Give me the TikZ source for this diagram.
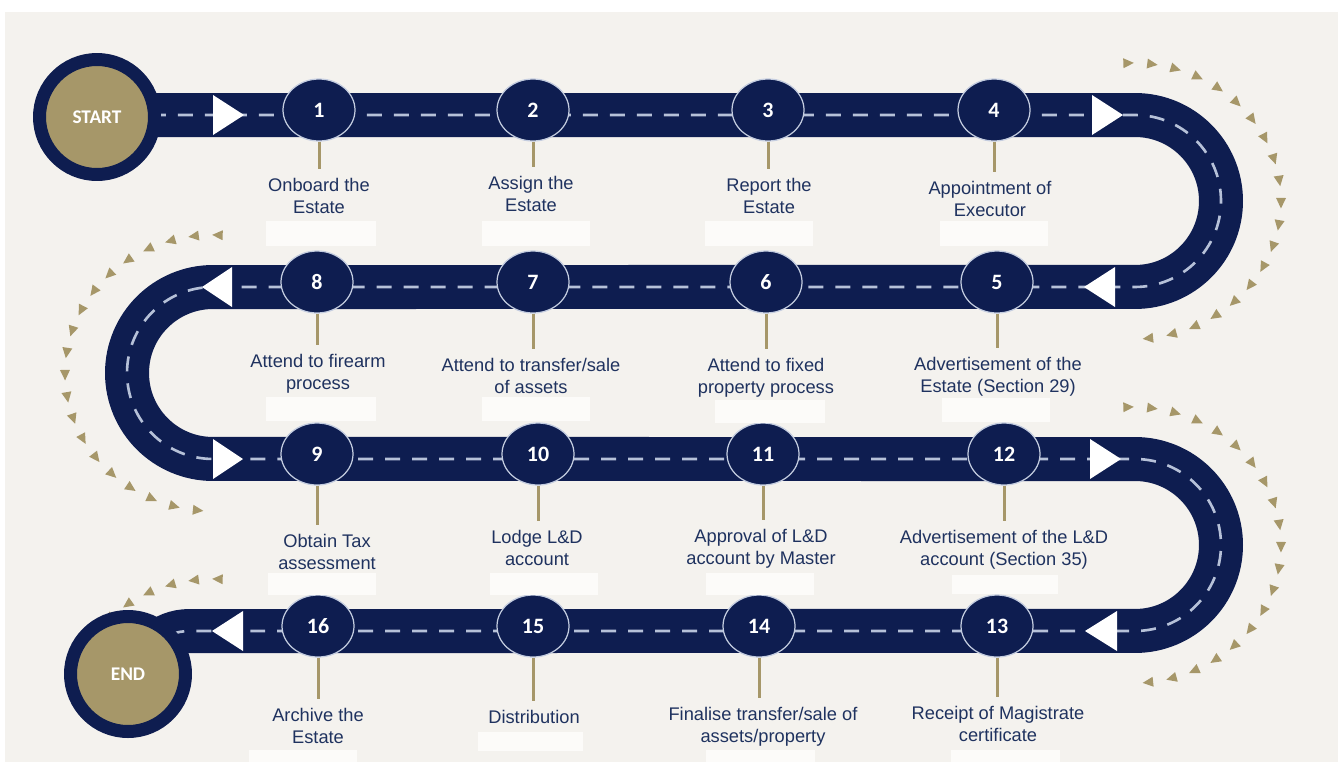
\documentclass[tikz,border=0pt]{standalone}
\usepackage{fontspec}
\setmainfont{Liberation Sans}
\newfontfamily\badgefont{Carlito}
\usepackage{tikz}
\usetikzlibrary{
	shapes.geometric,
	calc}

\definecolor{navy}{RGB}{14,29,80}
\definecolor{gold}{RGB}{166,151,105}
\definecolor{paper}{RGB}{244,242,238}
\definecolor{ink}{RGB}{31,50,95}
\definecolor{laneline}{RGB}{182,193,216}
\definecolor{ringline}{RGB}{196,205,224}
\definecolor{blank}{RGB}{252,251,249}

\begin{document}
\begin{tikzpicture}[x=0.02cm,y=0.02cm,every text node part/.style={align=center},
	road/.style={draw=navy,line width=0.88cm,
		postaction={draw=laneline,line width=1.5pt,dash pattern=on 0.3cm off 0.24cm}},
	endpoint/.style={circle,fill=gold,draw=navy,line width=0.26cm,minimum size=2.3cm,
		inner sep=0pt,text=white,font=\badgefont\bfseries\fontsize{11}{13}\selectfont},
	badge/.style={ellipse,fill=navy,draw=ringline,line width=0.7pt,minimum width=1.44cm,
		minimum height=1.24cm,inner sep=0pt,text=white,font=\badgefont\bfseries\fontsize{12.5}{14}\selectfont},
	stagetext/.style={anchor=north,inner sep=0pt,text=ink,font=\fontsize{10.4}{12.5}\selectfont},
	stem/.style={draw=gold,line width=0.06cm,shorten >=0.18cm},
	chevron/.style={fill=gold}]

		\useasboundingbox (0,0) rectangle (1338,-762);
		\fill[white] (0,0) rectangle (1338,-762);
		\fill[paper] (5,-12) rectangle (1338,-762);

		% Chevrons round the turns
		\foreach \cy in {201,545}
			\foreach \i in {0,...,19}{
				\pgfmathsetmacro{\ang}{92-9.26*\i}
				\fill[chevron,shift={({1133+148*cos(\ang)},{-\cy+138*sin(\ang)})},rotate=\ang-90]
					(6,0) -- (-4.5,5) -- (-4.5,-5) -- cycle;
			}
		\foreach \cy/\last in {373/19,717/5}
			\foreach \i in {0,...,\last}{
				\pgfmathsetmacro{\ang}{88+9.26*\i}
				\fill[chevron,shift={({213+148*cos(\ang)},{-\cy+138*sin(\ang)})},rotate=\ang+90]
					(6,0) -- (-4.5,5) -- (-4.5,-5) -- cycle;
			}

		% Road
		\draw[road] (97,-115) -- (1135,-115) arc (90:-90:1.72cm) -- (213,-287)
			arc (90:270:1.72cm) -- (1135,-459) arc (90:-90:1.72cm) -- (213,-631)
			-- (190,-631) to[out=180,in=50] (128,-674);

		% Direction arrows
		\foreach \bx/\tx/\ry in {213/244/115,1092/1123/115,1115/1084/287,232/202/287,
				213/243/459,1090/1121/459,1117/1085/631,243/212/631}
			\fill[white] (\bx,-\ry+20) -- (\tx,-\ry) -- (\bx,-\ry-20) -- cycle;

		% Start and end
		\node[endpoint] (start) at (97,-117) {START};
		\node[endpoint] (end) at (128,-674) {END};

		% Stages
		\node[badge] (n1) at (319,-110) {1};
		\node[badge] (n2) at (533,-110) {2};
		\node[badge] (n3) at (768,-110) {3};
		\node[badge] (n4) at (994,-110) {4};
		\node[badge] (n5) at (997,-282) {5};
		\node[badge] (n6) at (766,-282) {6};
		\node[badge] (n7) at (533,-282) {7};
		\node[badge] (n8) at (317,-282) {8};
		\node[badge] (n9) at (317,-454) {9};
		\node[badge] (n10) at (538,-454) {10};
		\node[badge] (n11) at (763,-454) {11};
		\node[badge] (n12) at (1004,-454) {12};
		\node[badge] (n13) at (997,-626) {13};
		\node[badge] (n14) at (759,-626) {14};
		\node[badge] (n15) at (533,-626) {15};
		\node[badge] (n16) at (318,-626) {16};

		\node[stagetext] (l1) at (319,-178) {Onboard the\\Estate};
		\node[stagetext] (l2) at (531,-176) {Assign the\\Estate};
		\node[stagetext] (l3) at (769,-178) {Report the\\Estate};
		\node[stagetext] (l4) at (990,-181) {Appointment of\\Executor};
		\node[stagetext] (l5) at (998,-357) {Advertisement of the\\Estate (Section 29)};
		\node[stagetext] (l6) at (766,-358) {Attend to fixed\\property process};
		\node[stagetext] (l7) at (531,-358) {Attend to transfer/sale\\of assets};
		\node[stagetext] (l8) at (318,-354) {Attend to firearm\\process};
		\node[stagetext] (l9) at (327,-534) {Obtain Tax\\assessment};
		\node[stagetext] (l10) at (537,-530) {Lodge L\&D\\account};
		\node[stagetext] (l11) at (761,-529) {Approval of L\&D\\account by Master};
		\node[stagetext] (l12) at (1004,-530) {Advertisement of the L\&D\\account (Section 35)};
		\node[stagetext] (l13) at (998,-706) {Receipt of Magistrate\\certificate};
		\node[stagetext] (l14) at (763,-707) {Finalise transfer/sale of\\assets/property};
		\node[stagetext] (l15) at (534,-710) {Distribution};
		\node[stagetext] (l16) at (318,-708) {Archive the\\Estate};

		\draw[stem] (n1.south) -- (n1.south |- l1.north);
		\draw[stem] (n2.south) -- (n2.south |- l2.north);
		\draw[stem] (n3.south) -- (n3.south |- l3.north);
		\draw[stem] (n4.south) -- (n4.south |- l4.north);
		\draw[stem] (n5.south) -- (n5.south |- l5.north);
		\draw[stem] (n6.south) -- (n6.south |- l6.north);
		\draw[stem] (n7.south) -- (n7.south |- l7.north);
		\draw[stem] (n8.south) -- (n8.south |- l8.north);
		\draw[stem] (n9.south) -- (n9.south |- l9.north);
		\draw[stem] (n10.south) -- (n10.south |- l10.north);
		\draw[stem] (n11.south) -- (n11.south |- l11.north);
		\draw[stem] (n12.south) -- (n12.south |- l12.north);
		\draw[stem] (n13.south) -- (n13.south |- l13.north);
		\draw[stem] (n14.south) -- (n14.south |- l14.north);
		\draw[stem] (n15.south) -- (n15.south |- l15.north);
		\draw[stem] (n16.south) -- (n16.south |- l16.north);

		% Empty note boxes
		\foreach \xa/\ya/\xb/\yb in {266/221/376/246,482/221/590/246,705/221/813/246,940/221/1048/246,
				266/397/376/421,482/397/590/421,715/400/825/423,942/398/1050/422,
				268/573/376/595,490/573/598/595,706/573/814/595,952/575/1058/594,
				249/750/357/762,478/732/583/751,706/750/815/762,951/750/1060/762}
			\fill[blank] (\xa,-\ya) rectangle (\xb,-\yb);

	\end{tikzpicture}
\end{document}
